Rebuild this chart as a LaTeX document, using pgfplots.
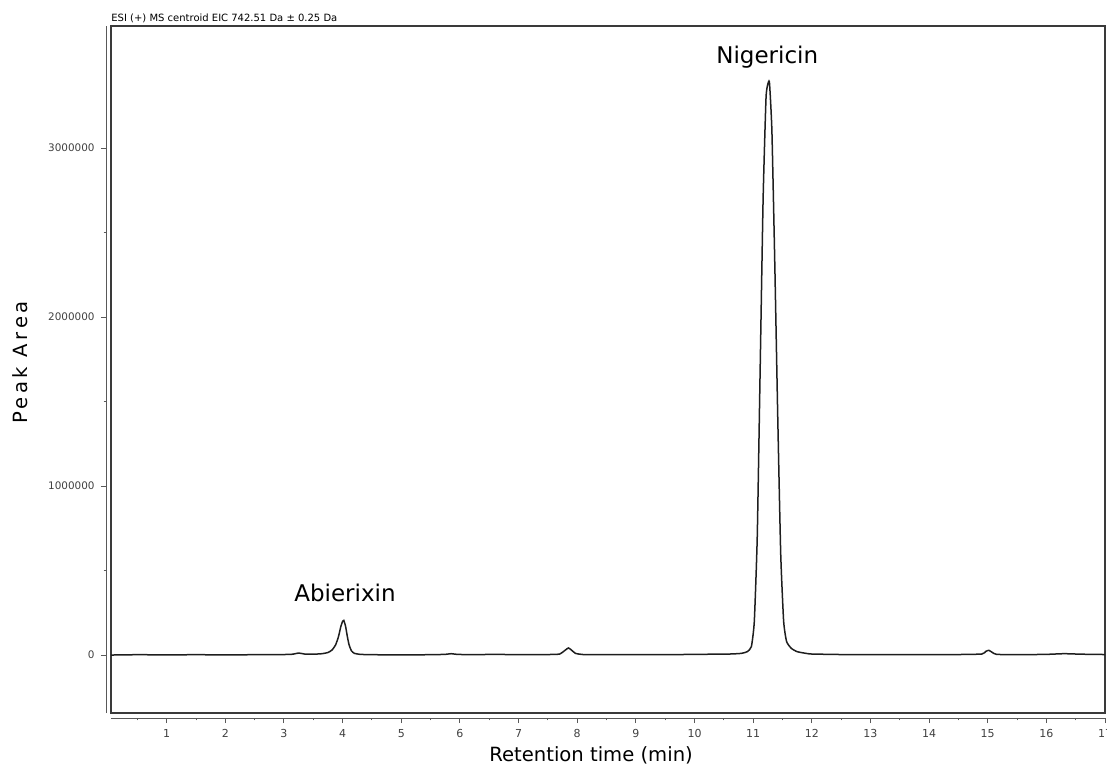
\documentclass[border=0pt]{standalone}
\usepackage{pgfplots}
\pgfplotsset{compat=1.18}
\usepackage{fontspec}
\setmainfont{DejaVu Sans}
\newfontfamily\lsfont[LetterSpace=18]{DejaVu Sans}
\definecolor{boxgray}{HTML}{3A3A3A}
\definecolor{linegray}{HTML}{1E1E1E}
\begin{document}
\begin{tikzpicture}
\begin{axis}[
  scale only axis,
  width=497pt, height=343.5pt,
  xmin=0.05, xmax=17, ymin=-343000, ymax=3722000,
  axis line style={boxgray, line width=1pt},
  tick pos=left,
  tick align=outside,
  xtick={1,...,17},
  minor xtick={0.5,1.5,...,16.5},
  ytick={0,1000000,2000000,3000000},
  yticklabels={0,1000000,2000000,3000000},
  scaled y ticks=false,
  minor ytick={500000,1500000,2500000},
  major tick length=2.5pt, minor tick length=1.2pt,
  x tick style={yshift=-2.5pt, gray!70!black, line width=0.5pt},
  y tick style={xshift=-2.5pt, gray!70!black, line width=0.5pt},
  xticklabel style={font=\fontsize{5.5}{6}\selectfont, text=gray!50!black, yshift=-2pt},
  yticklabel style={font=\fontsize{5.2}{6}\selectfont, text=gray!50!black, xshift=-2.2pt},
  /pgf/number format/assume math mode=true,
  clip=false,
]
\addplot[linegray, line width=0.75pt, smooth, tension=0.3] coordinates {
(0.05,0) (0.5,2000) (1.0,1000) (1.5,2000) (2.0,1000) (2.5,2000) (3.0,3000)
(3.15,5000) (3.25,12000) (3.35,6000) (3.5,5000) (3.65,8000) (3.75,15000)
(3.82,30000) (3.88,60000) (3.93,110000) (3.97,170000) (4.0,200000) (4.02,205000)
(4.05,170000) (4.08,110000) (4.11,60000) (4.15,25000) (4.2,10000) (4.3,4000)
(4.5,2000) (5.0,1000) (5.5,2000) (5.75,4000) (5.85,8000) (5.95,4000) (6.2,2000)
(6.6,4000) (7.0,2000) (7.5,3000) (7.7,6000) (7.8,30000) (7.85,42000) (7.9,30000)
(7.97,10000) (8.1,3000) (8.5,2000) (9.0,3000) (9.5,2000) (10.0,4000)
(10.6,6000) (10.8,10000) (10.9,20000) (10.97,50000) (11.02,200000) (11.07,700000)
(11.12,1700000) (11.17,2700000) (11.22,3300000) (11.26,3390000) (11.28,3380000)
(11.32,3100000) (11.37,2300000) (11.42,1400000) (11.47,600000) (11.52,200000)
(11.57,80000) (11.65,40000) (11.75,20000) (11.9,10000) (12.0,6000) (12.5,3000)
(13.0,2000) (13.5,2000) (14.0,2000) (14.5,3000) (14.9,6000) (14.97,22000)
(15.02,28000) (15.08,15000) (15.15,4000) (15.5,2000) (16.0,4000) (16.3,8000)
(16.6,5000) (17.0,3000)
};
\node[font=\fontsize{11.5}{13}\selectfont] at (axis cs:11.24,3540000) {Nigericin};
\node[font=\fontsize{11.5}{13}\selectfont] at (axis cs:4.04,367000) {Abierixin};
\node[anchor=south west, font=\fontsize{5}{6}\selectfont, inner sep=0pt, yshift=1.5pt] at (axis description cs:0,1) {ESI (+) MS centroid EIC 742.51 Da ± 0.25 Da};
\node[font=\fontsize{9.8}{11}\selectfont] at (axis description cs:0.483,-0.061) {Retention time (min)};
\node[rotate=90, font=\lsfont\fontsize{9.8}{11}\selectfont] at (axis description cs:-0.0915,0.51) {Peak Area};
\end{axis}
\draw[gray!70!black, line width=0.5pt] ([yshift=-2.5pt]current axis.south west) -- ([yshift=-2.5pt]current axis.south east);
\draw[gray!70!black, line width=0.5pt] ([xshift=-2.5pt]current axis.south west) -- ([xshift=-2.5pt]current axis.north west);
\pgfresetboundingbox
\path[use as bounding box] ([shift={(-55.5pt,-30pt)}]current axis.south west) rectangle ++(553.5pt,386.5pt);
\end{tikzpicture}
\end{document}
